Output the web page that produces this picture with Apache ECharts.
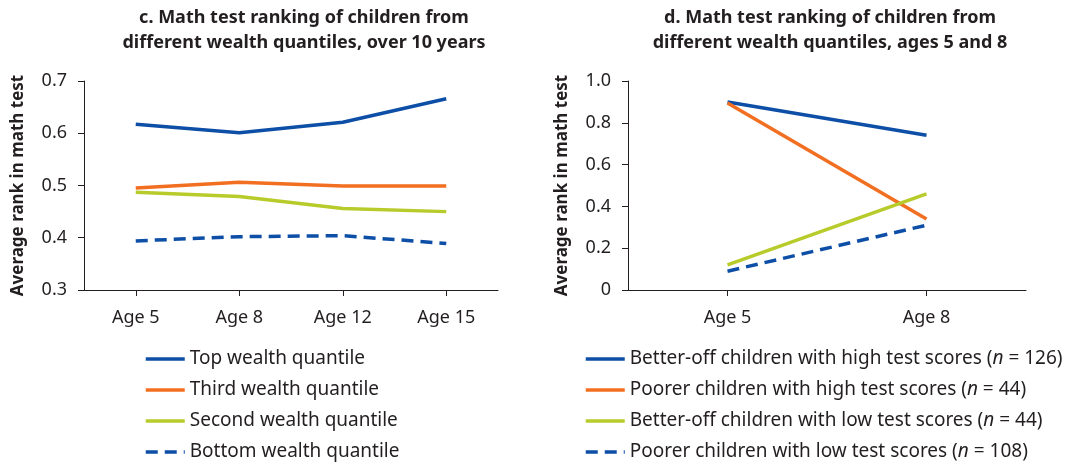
<!DOCTYPE html>
<html>
<head>
<meta charset="utf-8">
<script src="https://cdn.jsdelivr.net/npm/echarts@6/dist/echarts.min.js"></script>
<style>
html,body{margin:0;padding:0;background:#fff;}
#chart{width:1069px;height:465px;}
</style>
</head>
<body>
<div id="chart"></div>
<script>
// Panel c data
const catsC = ['Age 5', 'Age 8', 'Age 12', 'Age 15'];
const topQ = [0.617, 0.601, 0.621, 0.666];
const thirdQ = [0.495, 0.506, 0.499, 0.499];
const secondQ = [0.487, 0.479, 0.456, 0.450];
const bottomQ = [0.394, 0.402, 0.404, 0.389];
const namesC = ['Top wealth quantile', 'Third wealth quantile', 'Second wealth quantile', 'Bottom wealth quantile'];
const ticksC = [0.3, 0.4, 0.5, 0.6, 0.7];

// Panel d data
const catsD = ['Age 5', 'Age 8'];
const betterHigh = [0.90, 0.74];
const poorerHigh = [0.895, 0.34];
const betterLow = [0.12, 0.46];
const poorerLow = [0.09, 0.31];
const namesD = ['Better-off children with high test scores (n = 126)', 'Poorer children with high test scores (n = 44)', 'Better-off children with low test scores (n = 44)', 'Poorer children with low test scores (n = 108)'];
const ticksD = [0, 0.2, 0.4, 0.6, 0.8, 1.0];

const BLUE = '#0d4ea6', ORANGE = '#f26f22', GREEN = '#b7cb2a';
const FONT = 'Noto Sans';
const TXT = '#231f20';

const chart = echarts.init(document.getElementById('chart'), null, {renderer: 'canvas'});

function mkSeries(name, data, color, idx, dashed) {
  return {
    name: name, type: 'line', data: data,
    xAxisIndex: idx, yAxisIndex: idx,
    symbol: 'none', smooth: false,
    lineStyle: {color: color, width: 3.5, type: dashed ? [12, 7] : 'solid'},
    itemStyle: {color: color},
    emphasis: {disabled: true},
    animation: false
  };
}

const axisLineStyle = {show: true, lineStyle: {color: TXT, width: 1}};
const tickStyle = {show: true, alignWithLabel: true, length: 6, lineStyle: {color: TXT}};
const labelStyle = {color: TXT, fontFamily: FONT, fontSize: 18};
const nameStyle = {fontFamily: FONT, fontWeight: 'bold', fontSize: 17, color: TXT};

function legendFormatter(name) {
  const m = name.match(/^(.*)\(n = (\d+)\)$/);
  if (m) return '{a|' + m[1] + '(}{i|n}{a| = ' + m[2] + ')}';
  return '{a|' + name + '}';
}

const richLegend = {
  a: {fontFamily: FONT, fontSize: 19, color: TXT, lineHeight: 24},
  i: {fontFamily: FONT, fontSize: 19, color: TXT, fontStyle: 'italic', lineHeight: 24}
};

function mkLegend(names, left) {
  return {
    data: names, orient: 'vertical', left: left, top: 342, height: 130,
    itemWidth: 39, itemHeight: 14, itemGap: 7,
    selectedMode: false,
    itemStyle: {opacity: 0},
    lineStyle: {width: 3.5},
    textStyle: {rich: richLegend, fontSize: 19, lineHeight: 24},
    formatter: legendFormatter
  };
}

chart.setOption({
  animation: false,
  backgroundColor: '#fff',
  title: [
    {text: 'c. Math test ranking of children from\ndifferent wealth quantiles, over 10 years', left: 299, top: 0, textAlign: 'center',
     textStyle: {fontFamily: FONT, fontWeight: 'bold', fontSize: 18, color: TXT, lineHeight: 25}},
    {text: 'd. Math test ranking of children from\ndifferent wealth quantiles, ages 5 and 8', left: 825, top: 0, textAlign: 'center',
     textStyle: {fontFamily: FONT, fontWeight: 'bold', fontSize: 18, color: TXT, lineHeight: 25}}
  ],
  grid: [
    {left: 84, top: 81, width: 414, height: 209},
    {left: 628, top: 81, width: 398, height: 209}
  ],
  xAxis: [
    {gridIndex: 0, type: 'category', data: catsC, boundaryGap: true,
     axisLine: axisLineStyle, axisTick: tickStyle, splitLine: {show: false},
     axisLabel: Object.assign({}, labelStyle, {margin: 19})},
    {gridIndex: 1, type: 'category', data: catsD, boundaryGap: true,
     axisLine: axisLineStyle, axisTick: tickStyle, splitLine: {show: false},
     axisLabel: Object.assign({}, labelStyle, {margin: 19})}
  ],
  yAxis: [
    {gridIndex: 0, type: 'value', min: ticksC[0], max: ticksC[ticksC.length - 1], interval: 0.1,
     name: 'Average rank in math test', nameLocation: 'middle', nameGap: 57, nameTextStyle: nameStyle,
     axisLine: axisLineStyle, axisTick: {show: true, length: 6, lineStyle: {color: TXT}}, splitLine: {show: false},
     axisLabel: Object.assign({}, labelStyle, {margin: 17, formatter: v => v.toFixed(1)})},
    {gridIndex: 1, type: 'value', min: ticksD[0], max: ticksD[ticksD.length - 1], interval: 0.2,
     name: 'Average rank in math test', nameLocation: 'middle', nameGap: 57, nameTextStyle: nameStyle,
     axisLine: axisLineStyle, axisTick: {show: true, length: 6, lineStyle: {color: TXT}}, splitLine: {show: false},
     axisLabel: Object.assign({}, labelStyle, {margin: 17, formatter: v => v === 0 ? '0' : v.toFixed(1)})}
  ],
  legend: [mkLegend(namesC, 139), mkLegend(namesD, 579)],
  series: [
    mkSeries(namesC[0], topQ, BLUE, 0, false),
    mkSeries(namesC[1], thirdQ, ORANGE, 0, false),
    mkSeries(namesC[2], secondQ, GREEN, 0, false),
    mkSeries(namesC[3], bottomQ, BLUE, 0, true),
    mkSeries(namesD[0], betterHigh, BLUE, 1, false),
    mkSeries(namesD[1], poorerHigh, ORANGE, 1, false),
    mkSeries(namesD[2], betterLow, GREEN, 1, false),
    mkSeries(namesD[3], poorerLow, BLUE, 1, true)
  ]
});
</script>
</body>
</html>
